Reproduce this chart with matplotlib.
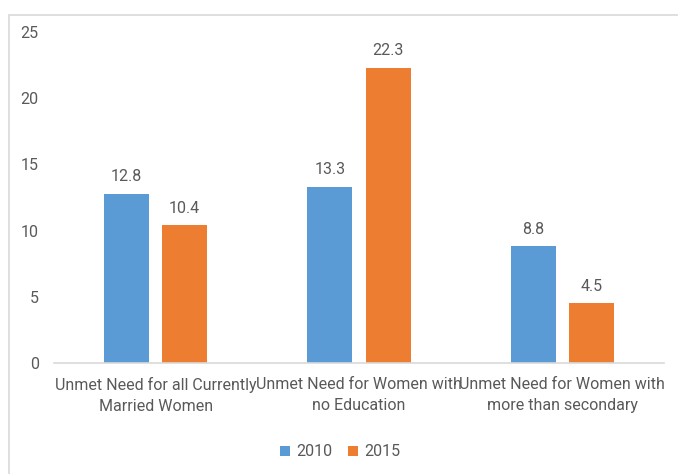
import numpy as np
import matplotlib.pyplot as plt
from matplotlib.patches import Rectangle

# Data
categories = ["Unmet Need for all Currently\nMarried Women",
              "Unmet Need for Women with\nno Education",
              "Unmet Need for Women with\nmore than secondary"]
years = ["2010", "2015"]
vals_2010 = [12.8, 13.3, 8.8]
vals_2015 = [10.4, 22.3, 4.5]

BLUE = "#5B9BD5"
ORANGE = "#ED7D31"
TEXT = "#595959"
LINE = "#D9D9D9"
FS = 11.5

plt.rcParams["font.family"] = ["Roboto", "DejaVu Sans"]

W, H = 678, 474
fig = plt.figure(figsize=(W / 100, H / 100), dpi=100)
fig.patch.set_facecolor("white")

# Outer chart border (partly cut off at right/bottom)
fig.add_artist(Rectangle((9 / W, -0.1), 1.2, 1 - 15 / H + 0.1, transform=fig.transFigure,
                         fill=False, edgecolor=LINE, linewidth=1.2))

ax = fig.add_axes([54 / W, 1 - 363 / H, 610 / W, (363 - 32) / H])
x = np.arange(len(categories))
bw = 0.222
off = 0.143
b1 = ax.bar(x - off, vals_2010, bw, color=BLUE, label=years[0])
b2 = ax.bar(x + off, vals_2015, bw, color=ORANGE, label=years[1])

for bars, vals in ((b1, vals_2010), (b2, vals_2015)):
    for r, v in zip(bars, vals):
        ax.annotate(f"{v}", (r.get_x() + r.get_width() / 2, v), xytext=(0, 7),
                    textcoords="offset points", ha="center", va="bottom",
                    fontsize=FS, color=TEXT)

ax.set_xlim(-0.5, 2.5)
ax.set_ylim(0, 25)
ax.set_yticks(range(0, 26, 5))
ax.set_xticks(x)
ax.set_xticklabels(categories, fontsize=FS, color=TEXT, linespacing=1.5)
ax.tick_params(axis="y", length=0, pad=11, labelsize=FS, labelcolor=TEXT)
ax.tick_params(axis="x", length=0, pad=10)
for s in ("top", "right", "left"):
    ax.spines[s].set_visible(False)
ax.spines["bottom"].set_color(LINE)
ax.spines["bottom"].set_linewidth(1.2)

fig.legend(handles=[b1, b2], labels=years, loc="center", bbox_to_anchor=(340 / W, 1 - 452 / H),
           ncol=2, frameon=False, fontsize=FS, handlelength=0.6, handleheight=0.6,
           handletextpad=0.4, columnspacing=1.0, labelcolor=TEXT)

fig.savefig("out.png", dpi=100)
